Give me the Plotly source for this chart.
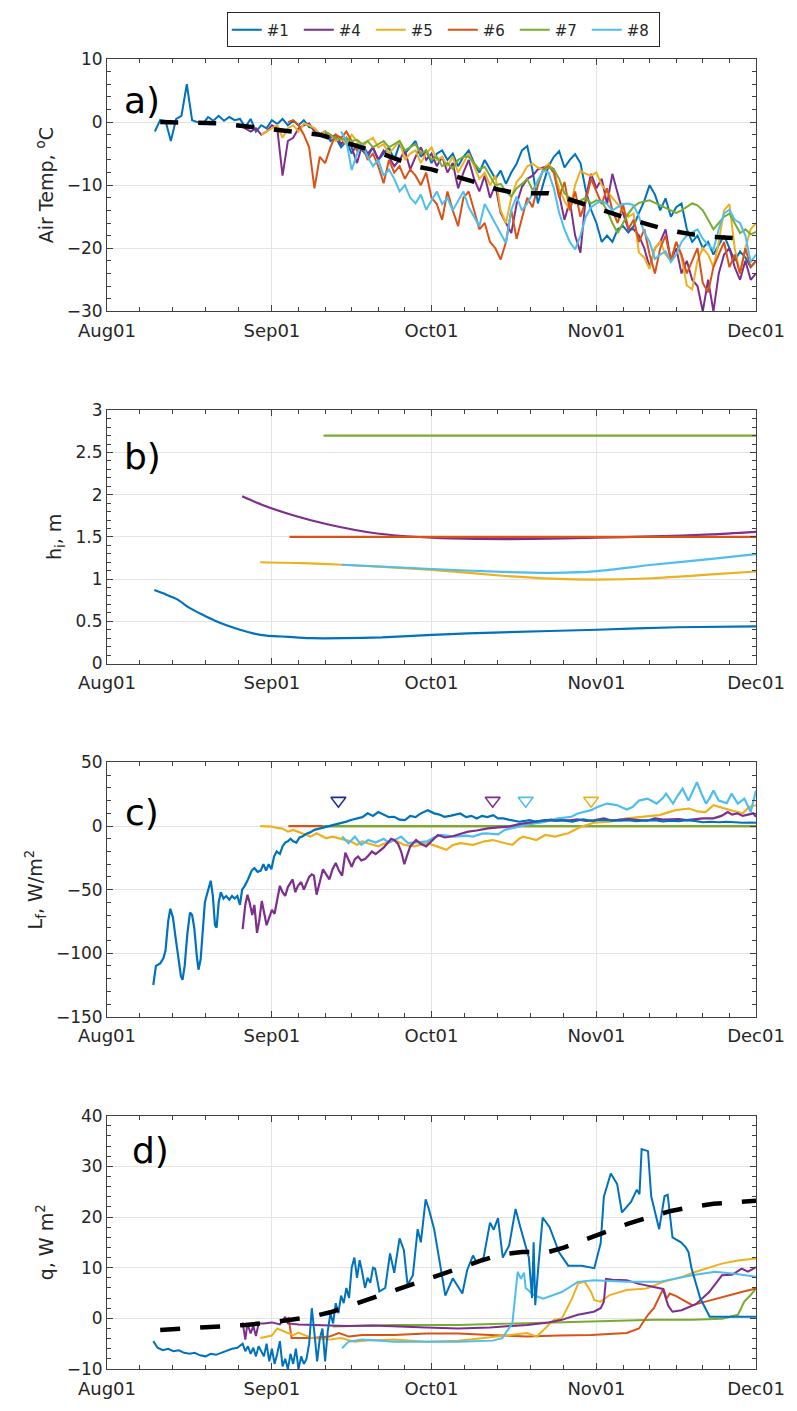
import numpy as np
import pandas as pd
import plotly.graph_objects as go

BASE = pd.Timestamp("2015-08-01")
def to_dates(days):
    return BASE + pd.to_timedelta(np.asarray(days, dtype=float), unit="D")

names = ["#1", "#4", "#5", "#6", "#7", "#8"]
colors = ["#0072BD", "#7E2F8E", "#EDB120", "#D95319", "#77AC30", "#4DBEEE"]

# ---------------- panel a: air temperature (daily values) ----------------
a_start = [9, 25, 29, 34, 41, 44]
a_b1 = [-1.5,0.3,0.2,-3.0,0.5,1.0,6.0,0.3,0.0,-0.3,
        0.8,0.2,1.0,0.2,0.8,0.3,0.5,-0.8,0.5,-1.5,
        -0.5,-1.0,0.3,-0.3,0.5,-0.5,0.2,-0.5,0.3,-0.8,
        -1.0,-2.0,-1.5,-3.0,-2.5,-4.0,-3.0,-5.0,-3.5,-4.5,
        -5.5,-4.0,-6.0,-5.0,-4.0,-6.0,-3.5,-5.0,-4.0,-3.0,
        -5.5,-4.5,-6.5,-5.0,-4.5,-6.0,-5.0,-7.0,-5.5,-4.5,
        -6.5,-8.0,-6.0,-7.5,-9.0,-7.7,-9.8,-8.0,-6.6,-4.5,
        -3.8,-7.7,-12.9,-9.8,-7.0,-5.5,-4.6,-7.2,-6.0,-5.1,
        -6.5,-10.8,-13.9,-16.0,-19.0,-18.0,-19.0,-17.0,-16.5,-17.5,
        -16.5,-14.4,-12.5,-10.0,-11.5,-14.0,-12.1,-15.0,-13.5,-12.9,
        -17.0,-19.0,-18.0,-20.0,-19.0,-21.0,-19.5,-18.0,-20.0,-22.0,
        -20.5,-21.5,-23.0,-22.0]
a_b4 = [-0.5,-1.0,-1.5,-1.0,-2.0,-1.5,-0.5,-1.0,-8.5,-3.0,
        -2.5,-1.0,-0.5,-0.2,-1.5,-2.0,-1.5,-2.5,-2.0,-3.5,
        -2.5,-4.0,-6.5,-3.5,-5.0,-4.0,-6.0,-4.5,-5.5,-7.0,
        -6.0,-4.5,-7.5,-5.5,-4.0,-6.0,-5.0,-7.0,-5.5,-8.0,
        -6.5,-10.5,-8.0,-6.0,-9.0,-11.0,-8.5,-12.0,-10.0,-14.4,
        -16.0,-17.6,-13.0,-10.3,-9.0,-8.5,-7.5,-7.2,-6.9,-7.5,
        -11.3,-15.5,-12.5,-18.0,-20.7,-12.0,-8.2,-10.5,-9.0,-13.0,
        -8.2,-11.5,-14.4,-17.0,-17.0,-18.0,-20.0,-23.0,-20.0,-19.0,
        -17.0,-22.0,-20.0,-24.0,-22.0,-25.0,-26.0,-30.0,-25.0,-30.0,
        -24.0,-21.0,-20.0,-23.0,-25.0,-22.0,-25.0,-24.0]
a_b5 = [-2.0,-1.5,-1.0,-0.5,-2.5,-1.0,-0.5,-1.5,-0.2,-0.5,
        -1.0,-2.0,-1.5,-2.0,-3.0,-2.5,-3.5,-2.0,-3.0,-4.0,
        -3.0,-2.5,-4.0,-3.5,-5.0,-4.0,-3.0,-6.0,-5.0,-4.5,
        -6.5,-5.0,-4.0,-6.0,-5.5,-7.0,-5.5,-8.0,-6.5,-5.0,
        -7.0,-9.0,-8.0,-10.0,-8.5,-14.0,-16.0,-12.0,-9.5,-8.5,
        -7.0,-6.6,-7.2,-7.5,-6.6,-8.0,-10.5,-12.5,-14.0,-10.0,
        -7.7,-8.2,-8.5,-8.0,-10.0,-11.0,-12.0,-13.0,-14.0,-15.0,
        -14.5,-20.7,-21.5,-23.3,-20.0,-19.0,-21.0,-22.0,-19.0,-21.5,
        -25.9,-26.5,-22.0,-20.0,-21.0,-23.0,-19.0,-14.0,-13.0,-20.0,
        -24.0,-20.0,-17.0,-16.0]
a_b6 = [0.0,0.3,-0.5,-2.0,-4.0,-10.5,-5.5,-6.5,-4.0,-2.0,
        -2.5,-1.5,-3.0,-4.5,-3.5,-6.0,-5.0,-7.0,-9.7,-6.0,
        -8.0,-7.0,-9.0,-7.5,-8.5,-10.0,-8.0,-12.0,-13.0,-15.5,
        -11.0,-14.0,-16.5,-12.0,-11.0,-14.0,-17.0,-16.0,-19.0,-20.0,
        -21.8,-19.0,-14.0,-18.5,-15.0,-12.0,-13.5,-10.0,-7.5,-7.0,
        -8.0,-12.0,-9.5,-14.0,-11.0,-15.0,-12.5,-9.0,-11.0,-13.0,
        -10.5,-14.0,-16.0,-13.0,-17.0,-15.5,-19.0,-17.0,-21.0,-24.0,
        -20.0,-18.0,-22.0,-19.0,-21.0,-24.0,-22.0,-20.0,-25.5,-27.0,
        -23.0,-21.0,-19.0,-23.0,-21.0,-24.0,-20.0,-23.0,-22.0]
a_b7 = [-1.5,-2.0,-2.5,-2.8,-2.5,-3.0,-2.8,-3.5,-3.0,-4.0,
        -3.5,-3.0,-4.0,-3.5,-3.0,-4.5,-4.0,-3.5,-5.0,-4.5,
        -6.0,-5.5,-7.0,-6.5,-7.4,-6.0,-5.5,-5.5,-6.5,-7.5,
        -7.1,-8.5,-10.0,-9.8,-11.0,-11.8,-10.5,-9.8,-9.0,-10.8,
        -9.5,-7.7,-7.2,-7.5,-9.0,-11.3,-12.0,-12.9,-12.5,-12.0,
        -12.9,-12.4,-12.6,-14.0,-16.0,-17.6,-16.0,-14.5,-13.4,-12.8,
        -12.6,-12.4,-12.8,-13.2,-13.5,-14.0,-14.4,-14.0,-13.5,-12.9,
        -13.2,-14.0,-15.5,-17.0,-16.0,-15.0,-14.5,-16.0,-17.6,-17.0,
        -17.8,-17.4]
a_b8 = [-1.5,-3.0,-7.6,-5.0,-3.5,-5.5,-7.0,-6.0,-8.5,-7.5,
        -9.0,-11.0,-10.0,-12.0,-12.9,-11.5,-13.9,-12.5,-11.0,-13.0,
        -12.0,-14.0,-12.5,-11.0,-13.5,-15.0,-16.5,-13.0,-14.5,-16.0,
        -17.5,-19.2,-13.9,-11.8,-14.0,-12.9,-11.3,-9.2,-7.7,-8.0,
        -10.5,-14.4,-17.0,-19.0,-20.2,-18.0,-15.0,-13.5,-12.9,-12.5,
        -13.0,-14.0,-13.5,-13.0,-12.9,-13.2,-15.0,-17.5,-19.0,-21.7,
        -21.0,-20.5,-22.2,-21.0,-19.0,-18.0,-17.5,-17.0,-18.5,-19.5,
        -20.2,-17.0,-14.5,-13.9,-15.5,-16.0,-18.0,-22.2,-21.0]
a_mean_day = [10,13,17,21,25,29,33,37,40,43,46,49,52,55,58,61,64,67,70,73,76,80,83,86,90,94,98,102,106,110,114,118]
a_mean_val = [0,0,-0.1,-0.2,-0.6,-1.0,-1.4,-1.7,-2.0,-2.8,-3.5,-4.3,-5.1,-6.1,-7.0,-7.5,-8.2,-9.0,-9.7,-10.6,-11.1,-11.3,-11.3,-12.0,-13.1,-14.3,-15.3,-16.3,-17.2,-17.8,-18.2,-18.4]

# ---------------- panel b: ice thickness ----------------
b_b1_day = [8.9,11.0,13.2,15.5,17.9,20.2,22.6,25.0,27.3,30.0,32.9,35.5,38.5,44.2,51.7,61.1,74.3,92.1,107.2,122]
b_b1_val = [0.87,0.82,0.76,0.66,0.58,0.51,0.45,0.40,0.36,0.33,0.32,0.31,0.30,0.30,0.31,0.34,0.37,0.40,0.43,0.44]
b_b4_day = [25.4,29.1,34.8,41.4,50.8,61.1,69.6,79.9,92.1,102.5,113.7,122]
b_b4_val = [1.98,1.88,1.76,1.65,1.54,1.49,1.475,1.475,1.49,1.505,1.53,1.56]
b_b5_day = [28.8,36.7,44.2,61.1,74.3,83.7,92.1,102.5,113.7,122]
b_b5_val = [1.20,1.19,1.17,1.11,1.04,1.005,0.995,1.01,1.055,1.09]
b_b6_day = [34.3,122]
b_b6_val = [1.5,1.5]
b_b7_day = [40.7,122]
b_b7_val = [2.7,2.7]
b_b8_day = [44.2,61.1,74.3,83.7,92.1,102.5,113.7,122]
b_b8_val = [1.17,1.12,1.085,1.075,1.095,1.17,1.24,1.295]

# ---------------- panel c: latent heat flux ----------------
c_b1_day = [8.7,9.2,10.0,10.6,11.0,11.5,11.9,12.4,12.9,13.4,13.9,14.2,14.6,15.1,15.6,16.0,16.4,16.9,17.2,17.6,
            18.0,18.4,18.9,19.5,19.9,20.3,20.6,21.0,21.4,21.9,22.4,23.0,23.5,24.0,24.5,25.0,25.4,25.9,26.5,27.2,
            27.7,28.3,28.9,29.4,29.9,30.4,30.9,31.4,31.9,32.5,33.0,33.5,34.0,34.5,35.0,35.6,36.2,36.8,37.5,38.2,
            39.0,40.0,41.0,42.0,43.0,44.0,45.0,46.0,47.0,48.0,49.0,50.0,51.0,52.0,53.0,54.0,55.0,56.0,57.0,58.0,
            59.0,60.3,61.5,62.5,63.4,64.5,65.5,66.4,67.5,68.5,69.5,70.5,71.5,72.6,73.5,74.5,75.5,76.5,77.5,78.5,
            79.4,80.5,81.5,82.4,83.5,84.5,85.5,86.5,87.5,88.5,89.5,90.5,91.5,92.5,93.5,95,96.5,98,99.5,101,
            103,104.5,106,107.5,109,110.5,112,113.5,115,116.5,118,119.5,121,122]
c_b1_val = [-125,-110,-108,-104,-98,-75,-65,-72,-88,-102,-118,-121,-110,-85,-68,-70,-80,-103,-113,-105,
            -85,-60,-52,-43,-55,-78,-80,-60,-52,-57,-55,-58,-55,-57,-55,-62,-50,-47,-42,-35,
            -33,-36,-35,-30,-35,-30,-34,-24,-20,-22,-16,-13,-12,-10,-12,-13,-9,-8,-6,-5,
            -3,-2,-1,0,1,2,3.5,5,6,7,10,8,11,9,7,7.3,5,4.7,8,7,
            10,12.5,10,9,7.3,8,9,9.9,7,8,6,8,7,8.6,6,6,5,4,3.4,4,
            4.7,3.5,4,4.2,5,4,4.7,4,3.4,4.5,5.2,4.5,4,4.8,4.7,4,4.2,4.7,3.8,4.5,
            4.7,3.6,4.2,3.8,4.7,4,3,3.4,3,3.4,2.8,2.6,2.8,2.6]
c_b4_day = [25.5,26.0,26.4,26.8,27.3,27.7,28.2,28.6,29.1,29.6,30.0,30.5,31.0,31.5,32.0,32.5,33.0,33.5,34.0,34.4,
            34.9,35.4,35.9,36.5,37.0,37.5,38.0,38.5,38.9,39.4,39.9,40.6,41.2,41.8,42.4,43.0,43.6,44.2,44.8,45.4,
            46.0,46.6,47.2,47.8,48.5,49.2,49.8,50.5,51.5,52.0,52.7,53.4,54.0,54.7,55.3,55.9,56.5,57.0,58.1,59.0,
            60.0,61.0,62.2,63.5,65.0,66.5,67.9,69.5,71.6,73.5,75.5,77.5,79.4,81,82.5,84,85.5,87,88.5,90,
            91.5,93.4,95,96.5,98,100,101.5,103,104.5,106,107.5,109,110.5,112,114,115.5,116.7,117.5,118.5,119.5,
            120.5,121.5,122]
c_b4_val = [-81,-62,-54,-60,-70,-62,-84,-75,-59,-70,-78,-72,-66,-69,-58,-47,-52,-55,-48,-45,
            -42,-52,-47,-44,-50,-45,-40,-38,-39,-54,-45,-34,-38,-42,-34,-29,-35,-39,-21,-27,
            -32,-26,-24,-27,-26,-23,-20,-22,-19,-17,-13.5,-10,-11,-14,-20,-30,-22,-16,-11,-14,
            -16,-12,-7,-9,-8,-6,-4.4,-3.5,-1.8,-1,-0.5,1.5,2.6,3.5,4.7,4.2,4.7,4.5,5.2,4,
            4.5,6,4.2,5,5.5,4.7,4.2,6,5,5.2,5.5,4.7,5.6,6,6,8,11,9,10,8,
            9,10,7.3]
c_b5_day = [28.8,30,31,32,33,34,35,35.6,36.5,37.5,38.3,39.4,40.5,41.2,42.4,43.5,44.8,45.8,47,48,
            49,50,51,52,53,54,55.9,57.7,60.3,62,63.8,65,66.4,68.8,71,72.5,74,76.2,77.5,78.2,
            79.4,80.7,82.4,84.2,86.7,89.1,91.5,94.5,97.7,100.8,103.8,106.9,109.4,111,112.5,114,115.8,117.6,119.5,120.7,
            122]
c_b5_val = [0,0,-0.5,-1.5,-2,-4.4,-3,-4,-5.7,-7,-8.3,-5.7,-8,-9.6,-8.3,-9.5,-10.9,-12,-14.8,-12,
            -13.5,-15,-16,-14,-13,-11,-14.8,-16,-13.5,-16,-18.7,-15,-13.5,-14.8,-12,-11,-12.5,-14.8,-10,-8.3,
            -9.6,-11,-7,-8.3,-5.7,-0.5,2.6,3.4,6,7.3,8.6,12.5,13.8,11.5,11,16.4,14,12,10,15,
            16.4]
c_b6_day = [34.1,122]
c_b6_val = [0,0]
c_b7_day = [40.5,122]
c_b7_val = [0,0]
c_b8_day = [44.2,45.4,46.6,47.8,49.1,50.5,52,53,54.1,55.3,56.6,57.7,60.2,61.5,62.8,65.3,67.5,68.8,70.5,71.3,
            73.5,74.8,77.2,79.5,82,84.8,87.3,88.5,91,92.2,94,95.8,97.7,98.8,100,101.6,103.3,104.5,105.1,106,
            106.4,107.3,108.2,109.3,110.3,110.9,111.8,112.6,113.3,114,115,116.5,117.4,118.6,119.8,121,122]
c_b8_val = [-8.3,-13.5,-8.3,-14.8,-11,-13,-10,-13,-11,-8.3,-13.5,-13,-12,-9,-7,-8.3,-7.5,-8.3,-6,-5.7,
            -6.5,-3,-0.5,1.5,3,6,7.3,9.9,12.5,15,17.7,16.5,13,15,20,21.6,17.7,22,25.5,20,
            17.7,24,29.4,20,30,34.5,25,17.7,22,28,20,18,25.5,17.7,21.6,11,28]
c_mark_day = [43.5, 72.5, 78.7, 91.0]
c_mark_val = [20, 20, 20, 20]
c_mark_col = ["#1F2F86", "#7E2F8E", "#4DBEEE", "#EDB120"]

# ---------------- panel d: ocean heat flux ----------------
d_b1_day = [8.7,9.5,10.5,11.5,12.5,13.5,14.5,15.5,16.5,17.5,18.5,19.5,20.5,21.5,22.5,23.5,24.5,25.5,26.0,26.5,
            27.0,27.5,28.0,28.5,29.0,29.5,30.0,30.5,31.0,31.5,32.0,32.5,33.0,33.5,34.0,34.5,35.0,35.5,36.0,36.5,
            37.0,37.5,38.0,38.5,39.0,39.5,40.0,40.5,41.0,41.5,42.0,42.5,43.0,43.5,44.0,44.5,45.0,45.5,46.0,46.5,
            47.0,47.5,48.0,48.5,49.0,49.5,50.0,50.4,51.2,52.3,53.2,54.0,55.0,55.8,56.5,57.5,58.4,59.0,59.9,60.5,
            61.5,62.7,63.6,65.0,66.8,67.7,68.8,69.5,70.8,72.0,72.7,73.5,74.4,75.6,76.8,77.7,79.3,79.6,79.9,80.2,
            80.5,81.1,81.9,83.2,85.0,86.7,89.2,91.6,92.8,93.4,94.7,95.9,96.8,98.5,99.6,100.1,100.5,101.7,102.3,103.8,
            104.8,105.4,106.3,107.9,108.8,109.3,109.9,111.5,113.3,122]
d_b1_val = [-4.5,-5.8,-6.3,-6.0,-6.5,-6.3,-6.8,-7.0,-6.8,-7.3,-7.5,-7.0,-7.2,-6.8,-6.5,-6.0,-5.8,-5.0,-6.5,-5.5,
            -7.0,-5.8,-7.5,-5.5,-6.5,-7.5,-5.0,-8.5,-6.0,-9.0,-7.0,-4.5,-9.5,-8.0,-10.0,-7.0,-9.0,-6.0,-10.0,-7.5,
            -9.0,-8.0,-5.0,2.0,-3.0,-8.5,-4.0,-2.0,-8.5,-2.5,1.0,-1.0,3.0,1.0,4.5,3.0,6.0,4.0,10.0,12.0,
            8.0,11.5,9.0,6.0,8.0,7.0,10.0,9.8,5.3,6.0,12.8,9.0,15.8,13.5,6.6,8.5,17.6,15.0,23.5,21.6,
            17.6,10.4,4.5,7.9,4.9,9.5,12.4,11.0,12.0,18.9,17.5,19.8,12.0,14.4,21.6,18.0,12.0,8.0,4.0,15.0,
            2.6,10.4,19.9,18.0,13.0,10.4,10.4,9.9,14.8,24.0,28.6,26.5,20.9,23.0,25.4,24.5,33.4,33.0,24.1,17.6,
            24.1,24.4,16.0,15.0,14.0,13.1,9.8,4.0,0.3,0.3]
d_b4_day = [25.5,26.0,26.4,27.0,27.5,28.0,28.5,29.5,31.0,32.5,33.5,34.0,36,40,45,50,54,60,66,72,
            79,83,85.5,88.5,91.5,92.8,93.4,93.8,95,97.7,100,101.4,103,104.5,105.5,106.3,108,110.7,113.2,114.5,
            115.6,117.5,119.3,120.5,122]
d_b4_val = [-0.8,-4.2,-1.0,-3.0,-1.5,-3.5,-1.0,-1.0,-0.8,-1.2,0.3,-1.0,-1.2,-1.3,-1.5,-1.4,-1.6,-1.8,-2.0,-1.8,
            -1.3,-0.8,-0.3,0.7,1.3,2.0,3.3,7.8,7.6,7.5,6.8,6.5,6.2,5.8,2.5,1.3,1.6,2.8,5.2,7.0,
            8.5,8.6,9.8,9.2,10.1]
d_b5_day = [28.8,30,31,32,33,34,35,36,38.5,41.8,44,46.5,50,54,60,66,70,73.5,79,80.8,
            82.4,84,85.5,87.4,88.6,89.8,91,91.6,92.8,94.5,97.7,101.4,104.6,108.2,110.7,115.6,118.6,122]
d_b5_val = [-3.9,-3.6,-3.4,-2.0,-2.5,-2.9,-3.3,-2.8,-3.9,-4.2,-3.9,-4.6,-4.3,-4.2,-4.6,-4.4,-4.0,-3.6,-2.9,-3.6,
            -2.0,-0.3,0.0,3.9,6.9,7.2,5.2,3.6,3.3,4.6,5.6,5.9,7.2,8.2,9.2,10.8,11.4,11.8]
d_b6_day = [34.1,34.7,38.5,41.8,43.6,45.5,48,54,60,66,72,79,85,91,97.7,100,101.7,102.8,104,104.6,
            105.2,105.8,107,110,112.5,115.6,119.3,122]
d_b6_val = [0.3,-3.9,-3.9,-3.6,-2.9,-3.6,-3.3,-3.3,-3.0,-3.0,-3.3,-3.6,-3.4,-3.3,-2.9,-2.0,0.7,2.0,4.6,5.9,
            3.9,4.9,4.4,2.6,3.3,4.2,5.2,5.9]
d_b7_day = [42.4,48,54,66,79,91,103,110,115.6,118.6,119.8,121,122]
d_b7_val = [-1.6,-1.5,-1.3,-1.3,-1.0,-0.7,-0.3,-0.3,-0.1,0.7,3.3,4.6,5.9]
d_b8_day = [44.2,45.4,48,54,60,66,72.5,74.3,76.2,76.8,77.2,77.8,78.4,78.7,80.2,82.0,85.5,88.5,91.5,97.7,
            103.8,110,114.3,118,122]
d_b8_val = [-5.9,-4.6,-4.2,-4.6,-4.6,-4.6,-4.4,-3.9,-1.0,4.6,9.2,7.8,9.0,6.0,4.6,3.9,5.2,7.2,7.5,7.2,
            7.2,8.5,9.2,8.8,8.2]
d_mean_day = [10,14,18,22,26,30,34,38,42,46,50,54,58,62,66,70,74,78,83,86,90,94,98,102,106,110,114,118,122]
d_mean_val = [-2.3,-2.1,-1.9,-1.6,-1.3,-0.9,-0.4,0.2,1.2,2.6,4.2,5.6,7.0,8.4,9.8,11.3,12.6,13.1,13.1,14.0,15.6,17.2,18.7,20.0,21.2,22.0,22.6,22.9,23.2]

# ---------------- axis labelling ----------------
month_days = [0, 31, 61, 92, 122]
month_labels = ["Aug01", "Sep01", "Oct01", "Nov01", "Dec01"]
minor_days = [6.2, 12.4, 18.6, 24.8, 36, 41, 46, 51, 56, 67.2, 73.4, 79.6, 85.8, 97, 102, 107, 112, 117]
y_titles = ["Air Temp, <sup>o</sup>C", "h<sub>i</sub>, m", "L<sub>f</sub>, W/m<sup>2</sup>", "q, W m<sup>2</sup>"]
y_ranges = [[-30, 10], [0, 3], [-150, 50], [-10, 40]]
y_dticks = [10, 0.5, 50, 10]
y_minor = [2, 0.1, 10, 2]
panel_labels = ["a)", "b)", "c)", "d)"]

fig = go.Figure()

def add_line(days, vals, color, ax, name=None, show=False, width=2.0, dash=None):
    fig.add_trace(go.Scatter(
        x=to_dates(days), y=vals, mode="lines", name=name, showlegend=show,
        legendgroup=name, line=dict(color=color, width=width, dash=dash),
        xaxis="x" if ax == 1 else f"x{ax}", yaxis="y" if ax == 1 else f"y{ax}"))

# panel a
a_series = [a_b1, a_b4, a_b5, a_b6, a_b7, a_b8]
for i, vals in enumerate(a_series):
    days = np.arange(a_start[i], a_start[i] + len(vals))
    add_line(days, vals, colors[i], 1, name=names[i], show=True, width=2.0)
add_line(a_mean_day, a_mean_val, "black", 1, width=4.5, dash="18px,20px")

# panel b
b_series = [(b_b1_day, b_b1_val), (b_b4_day, b_b4_val), (b_b5_day, b_b5_val),
            (b_b6_day, b_b6_val), (b_b7_day, b_b7_val), (b_b8_day, b_b8_val)]
for i, (dd, vv) in enumerate(b_series):
    fig.add_trace(go.Scatter(x=to_dates(dd), y=vv, mode="lines", showlegend=False,
                             line=dict(color=colors[i], width=2.2, shape="spline", smoothing=0.6),
                             xaxis="x2", yaxis="y2"))

# panel c
c_series = [(c_b6_day, c_b6_val, 3), (c_b7_day, c_b7_val, 4), (c_b5_day, c_b5_val, 2),
            (c_b8_day, c_b8_val, 5), (c_b4_day, c_b4_val, 1), (c_b1_day, c_b1_val, 0)]
for dd, vv, ci in c_series:
    add_line(dd, vv, colors[ci], 3, width=2.2)
fig.add_trace(go.Scatter(x=to_dates(c_mark_day), y=c_mark_val, mode="markers", showlegend=False,
                         marker=dict(symbol="triangle-down-open", size=13, color=c_mark_col,
                                     line=dict(width=1.6, color=c_mark_col)),
                         xaxis="x3", yaxis="y3"))

# panel d
d_series = [(d_b7_day, d_b7_val, 4), (d_b6_day, d_b6_val, 3), (d_b5_day, d_b5_val, 2),
            (d_b4_day, d_b4_val, 1), (d_b8_day, d_b8_val, 5), (d_b1_day, d_b1_val, 0)]
for dd, vv, ci in d_series:
    add_line(dd, vv, colors[ci], 4, width=2.0)
add_line(d_mean_day, d_mean_val, "black", 4, width=4.5, dash="20px,20px")

# layout
H_TOP, H_BOT, H_TOTAL = 54, 1378, 1324
panel_px = [(54, 309), (409, 665), (765, 1022), (1122, 1378)]
axcol = "#404040"
layout = dict(
    width=797, height=1411,
    margin=dict(l=107, r=29, t=54, b=33),
    plot_bgcolor="white", paper_bgcolor="white",
    font=dict(family="DejaVu Sans", size=17, color="#262626"),
    legend=dict(orientation="h", x=(229 - 107) / 661, y=1 + (54 - 7) / H_TOTAL,
                xanchor="left", yanchor="top", bgcolor="white",
                bordercolor="#262626", borderwidth=1, font=dict(size=15),
                itemwidth=30, entrywidth=27, entrywidthmode="pixels", tracegroupgap=0),
)
for k in range(4):
    top, bot = panel_px[k]
    dom = [(H_BOT - bot) / H_TOTAL, (H_BOT - top) / H_TOTAL]
    sx = "" if k == 0 else str(k + 1)
    layout[f"xaxis{sx}"] = dict(
        domain=[0, 1], anchor=f"y{sx}",
        range=[to_dates([0])[0], to_dates([122])[0]],
        tickmode="array", tickvals=list(to_dates(month_days)), ticktext=month_labels,
        showline=True, linecolor=axcol, linewidth=1, mirror="ticks",
        ticks="inside", ticklen=6, tickcolor=axcol,
        showgrid=True, gridcolor="#e4e4e4", gridwidth=1, zeroline=False,
        minor=dict(tickmode="array", tickvals=list(to_dates(minor_days)), ticks="inside",
                   ticklen=4, tickcolor=axcol, showgrid=False),
        tickfont=dict(size=18, color="#262626"),
        ticklabelstandoff=3,
    )
    layout[f"yaxis{sx}"] = dict(
        domain=dom, anchor=f"x{sx}", range=y_ranges[k],
        tickmode="linear", tick0=0, dtick=y_dticks[k],
        showline=True, linecolor=axcol, linewidth=1, mirror="ticks",
        ticks="inside", ticklen=6, tickcolor=axcol,
        showgrid=True, gridcolor="#e4e4e4", gridwidth=1, zeroline=False,
        minor=dict(dtick=y_minor[k], ticks="inside", ticklen=4, tickcolor=axcol, showgrid=False),
        tickfont=dict(size=17, color="#262626"),
        title=dict(text=y_titles[k], font=dict(size=19, color="#262626"), standoff=8),
    )
fig.update_layout(**layout)

label_pos = [(122, 96), (122, 456), (123, 816), (130, 1157)]
for k, (px, py) in enumerate(label_pos):
    fig.add_annotation(text=panel_labels[k], xref="paper", yref="paper",
                       x=(px - 107) / 661, y=(H_BOT - py) / H_TOTAL,
                       xanchor="left", yanchor="middle", showarrow=False,
                       font=dict(size=36, color="black", family="DejaVu Sans"))

fig.write_html("out.html")
